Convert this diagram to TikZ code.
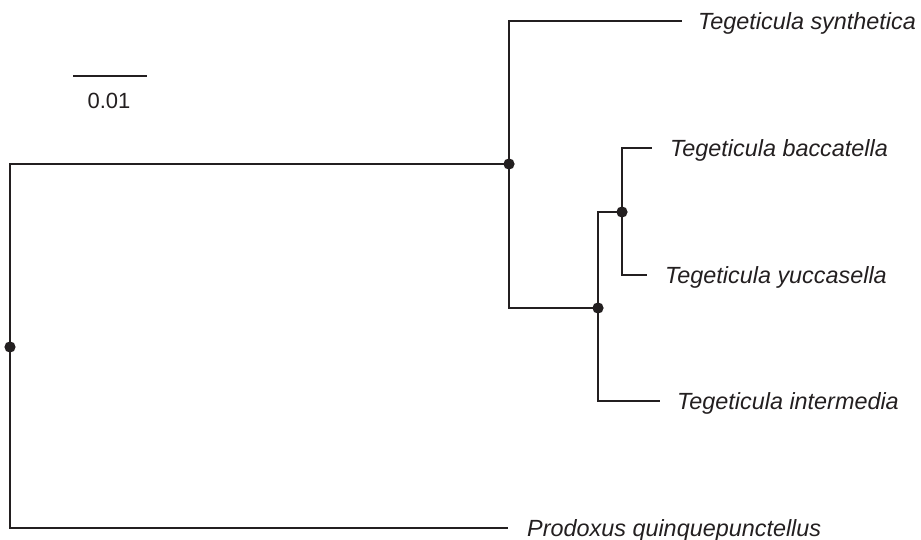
\documentclass[tikz,border=0pt]{standalone}
\usepackage{fontspec}
\setmainfont{Liberation Sans}
\definecolor{ink}{RGB}{35,31,32}
\begin{document}
\begin{tikzpicture}[x=1pt,y=-1pt,
  branch/.style={draw=ink,line width=2.7pt,line join=miter},
  dot/.style={fill=ink},
  leaf/.style={anchor=base west,inner sep=0pt,text=ink,font=\fontsize{23.4}{28}\selectfont\itshape},
  scalelabel/.style={anchor=base,inner sep=0pt,text=ink,font=\fontsize{22}{26}\selectfont}]
\useasboundingbox (0,0) rectangle (921,540);
% internal nodes
\coordinate (root) at (10,347);
\coordinate (n1) at (509,164);
\coordinate (n2) at (598,308);
\coordinate (n3) at (622,212);
% leaf line ends
\coordinate (synth) at (682,21);
\coordinate (bacc) at (652,148);
\coordinate (yucc) at (647,275);
\coordinate (inter) at (660,401);
\coordinate (prod) at (508,528);
% branches
\draw[branch] (root) |- (n1);
\draw[branch] (root) |- (prod);
\draw[branch] (n1) |- (synth);
\draw[branch] (n1) |- (n2);
\draw[branch] (n2) |- (n3);
\draw[branch] (n2) |- (inter);
\draw[branch] (n3) |- (bacc);
\draw[branch] (n3) |- (yucc);
% dots
\foreach \p in {root,n1,n2,n3} \fill[dot] (\p) circle (5.6);
% labels
\node[leaf] (Lsynth) at ([xshift=16pt,yshift=-8.4pt]synth) {Tegeticula synthetica};
\node[leaf] (Lbacc) at ([xshift=18pt,yshift=-8.4pt]bacc) {Tegeticula baccatella};
\node[leaf] (Lyucc) at ([xshift=18pt,yshift=-8.4pt]yucc) {Tegeticula yuccasella};
\node[leaf] (Linter) at ([xshift=17pt,yshift=-8.4pt]inter) {Tegeticula intermedia};
\node[leaf] (Lprod) at ([xshift=19pt,yshift=-8.4pt]prod) {Prodoxus quinquepunctellus};
% scale bar
\coordinate (s1) at (73,76);
\coordinate (s2) at (147,76);
\draw[branch] (s1) -- (s2);
\node[scalelabel] (sl) at (109,109) {0.01};
\end{tikzpicture}
\end{document}
